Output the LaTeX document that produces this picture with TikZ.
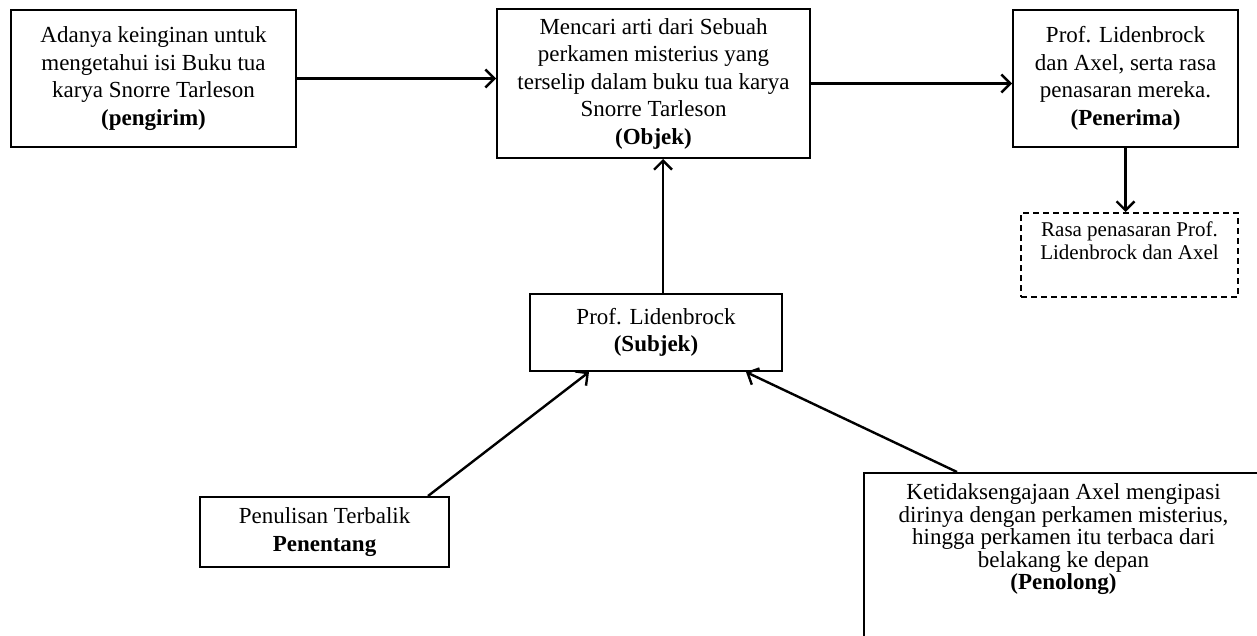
\documentclass[tikz,border=0pt]{standalone}
\usepackage{fontspec}
\setmainfont{Liberation Serif}
\usetikzlibrary{arrows.meta}

\tikzset{
  kotak/.style={draw, line width=2pt, align=center, inner sep=0pt,
    font=\fontsize{23}{27.5}\selectfont},
  kotakputus/.style={kotak, dashed, dash pattern=on 6pt off 4pt, line width=1.8pt,
    font=\fontsize{21}{23}\selectfont},
  panah/.style={line width=2.4pt, -{Straight Barb[length=9pt,width=18pt]}}
}

\begin{document}
\begin{tikzpicture}[x=1pt,y=-1pt]
  \useasboundingbox (0,0) rectangle (1257,636);
  % kotak-kotak aktan
  \node[kotak, minimum width=285, minimum height=137] (pengirim) at (153.5,78.5)
    {Adanya keinginan untuk\\ mengetahui isi Buku tua\\ karya Snorre Tarleson\\ \textbf{(pengirim)}};
  \node[kotak, minimum width=313, minimum height=149] (objek) at (653.5,83.5)
    {Mencari arti dari Sebuah\\ perkamen misterius yang\\ terselip dalam buku tua karya\\ Snorre Tarleson\\ \textbf{(Objek)}};
  \node[kotak, minimum width=225, minimum height=137] (penerima) at (1125.5,78.5)
    {Prof. Lidenbrock\\ dan Axel, serta rasa\\ penasaran mereka.\\ \textbf{(Penerima)}};
  \node[kotakputus, minimum width=217, inner ysep=9pt, text depth=28pt, anchor=north] (rasa) at (1129.5,212)
    {Rasa penasaran Prof.\\ Lidenbrock dan Axel};
  \node[kotak, minimum width=252, minimum height=77] (subjek) at (656,332.5)
    {Prof. Lidenbrock\\ \textbf{(Subjek)}};
  \node[kotak, minimum width=249, minimum height=70] (penentang) at (324.5,532)
    {Penulisan Terbalik\\ \textbf{Penentang}};
  \node[kotak, minimum width=399, inner ysep=11pt, text depth=160pt, anchor=north west,
    font=\fontsize{23}{22.5}\selectfont] (penolong) at (863,472)
    {Ketidaksengajaan Axel mengipasi\\ dirinya dengan perkamen misterius,\\ hingga perkamen itu terbaca dari\\ belakang ke depan\\ \textbf{(Penolong)}};

  % panah
  \draw[panah] (pengirim.east) -- (pengirim.east -| objek.west);
  \draw[panah] (objek.east) -- (objek.east -| penerima.west);
  \draw[panah] (penerima.south) -- (penerima.south |- rasa.north);
  \draw[panah] ([xshift=7pt]subjek.north) -- ([xshift=7pt]subjek.north |- objek.south);
  \draw[panah] ([xshift=103.5pt]penentang.north) -- ([xshift=-67pt]subjek.south);
  \draw[panah] ([xshift=94pt]penolong.north west) -- ([xshift=90pt]subjek.south);
\end{tikzpicture}
\end{document}
